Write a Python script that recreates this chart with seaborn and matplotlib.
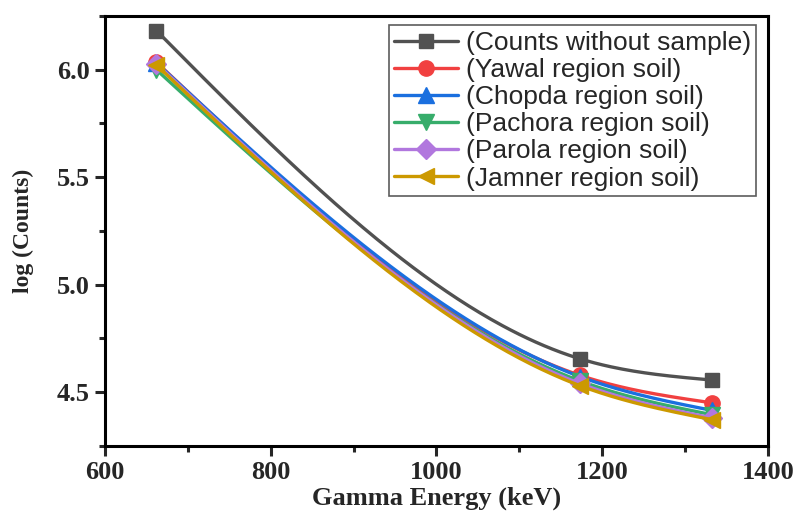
import numpy as np
import pandas as pd
import seaborn as sns
import matplotlib
matplotlib.use("Agg")
import matplotlib.pyplot as plt
from matplotlib.lines import Line2D
from matplotlib.ticker import MultipleLocator

# gamma lines (keV) and log(counts)
energy = [662, 1173, 1332]
counts_no_sample = [6.182, 4.655, 4.556]
yawal = [6.035, 4.578, 4.450]
chopda = [6.032, 4.572, 4.415]
pachora = [6.000, 4.552, 4.395]
parola = [6.028, 4.540, 4.380]
jamner = [6.022, 4.530, 4.372]

labels = ["(Counts without sample)", "(Yawal region soil)", "(Chopda region soil)",
          "(Pachora region soil)", "(Parola region soil)", "(Jamner region soil)"]
series = [counts_no_sample, yawal, chopda, pachora, parola, jamner]
colors = ["#515151", "#F14040", "#1A6FDF", "#37AD6B", "#B177DE", "#CC9900"]
markers = ["s", "o", "^", "v", "D", "<"]
msizes = [10, 11, 11, 11, 10, 12]


def natural_spline(x, y, n=200):
    # connect points with a natural cubic spline (Origin "Spline" line style)
    x = np.asarray(x, float)
    y = np.asarray(y, float)
    h = np.diff(x)
    k = len(x)
    A = np.zeros((k, k))
    r = np.zeros(k)
    A[0, 0] = A[-1, -1] = 1
    for i in range(1, k - 1):
        A[i, i - 1] = h[i - 1]
        A[i, i] = 2 * (h[i - 1] + h[i])
        A[i, i + 1] = h[i]
        r[i] = 6 * ((y[i + 1] - y[i]) / h[i] - (y[i] - y[i - 1]) / h[i - 1])
    M = np.linalg.solve(A, r)
    xs = np.linspace(x[0], x[-1], n)
    j = np.clip(np.searchsorted(x, xs) - 1, 0, k - 2)
    t0 = x[j + 1] - xs
    t1 = xs - x[j]
    hj = h[j]
    ys = (M[j] * t0**3 + M[j + 1] * t1**3) / (6 * hj) \
        + (y[j] / hj - M[j] * hj / 6) * t0 + (y[j + 1] / hj - M[j + 1] * hj / 6) * t1
    return xs, ys


sns.set_style("ticks")
plt.rcParams["font.family"] = ["Liberation Serif", "DejaVu Serif"]

fig = plt.figure(figsize=(7.95, 5.13), dpi=100)
ax = fig.add_axes([0.132, 0.131, 0.834, 0.838])

handles = []
for lab, ys, c, m, ms in zip(labels, series, colors, markers, msizes):
    xs_s, ys_s = natural_spline(energy, ys)
    sns.lineplot(x=xs_s, y=ys_s, ax=ax, color=c, lw=2.4, sort=False)
    df = pd.DataFrame({"E": energy, "v": ys})
    ax.plot(df["E"], df["v"], ls="none", marker=m, ms=ms, color=c, mec=c)
    handles.append(Line2D([], [], color=c, lw=2.4, marker=m, ms=ms, mec=c))

ax.set_xlim(600, 1400)
ax.set_ylim(4.25, 6.25)
ax.xaxis.set_major_locator(MultipleLocator(200))
ax.xaxis.set_minor_locator(MultipleLocator(100))
ax.yaxis.set_major_locator(MultipleLocator(0.5))
ax.yaxis.set_minor_locator(MultipleLocator(0.25))
ax.yaxis.set_major_formatter(matplotlib.ticker.FormatStrFormatter("%.1f"))

for s in ax.spines.values():
    s.set_linewidth(2.2)
    s.set_color("black")
ax.tick_params(which="major", direction="out", length=7, width=2.2, labelsize=19, pad=4)
ax.tick_params(which="minor", direction="out", length=4, width=2.2)
for t in ax.get_xticklabels() + ax.get_yticklabels():
    t.set_fontweight("bold")

ax.set_xlabel("Gamma Energy (keV)", fontsize=19, fontweight="bold", labelpad=2)
ax.set_ylabel("log (Counts)", fontsize=17, fontweight="bold", labelpad=16)

leg = ax.legend(handles, labels, loc="upper right", bbox_to_anchor=(0.99, 0.99),
                prop={"family": ["Liberation Sans", "DejaVu Sans"], "size": 19},
                frameon=True, fancybox=False, edgecolor="#333333",
                handlelength=2.4, handletextpad=0.3, labelspacing=0.12,
                borderpad=0.2, borderaxespad=0.2)
leg.get_frame().set_linewidth(1.2)

fig.savefig("out.png", dpi=100)
